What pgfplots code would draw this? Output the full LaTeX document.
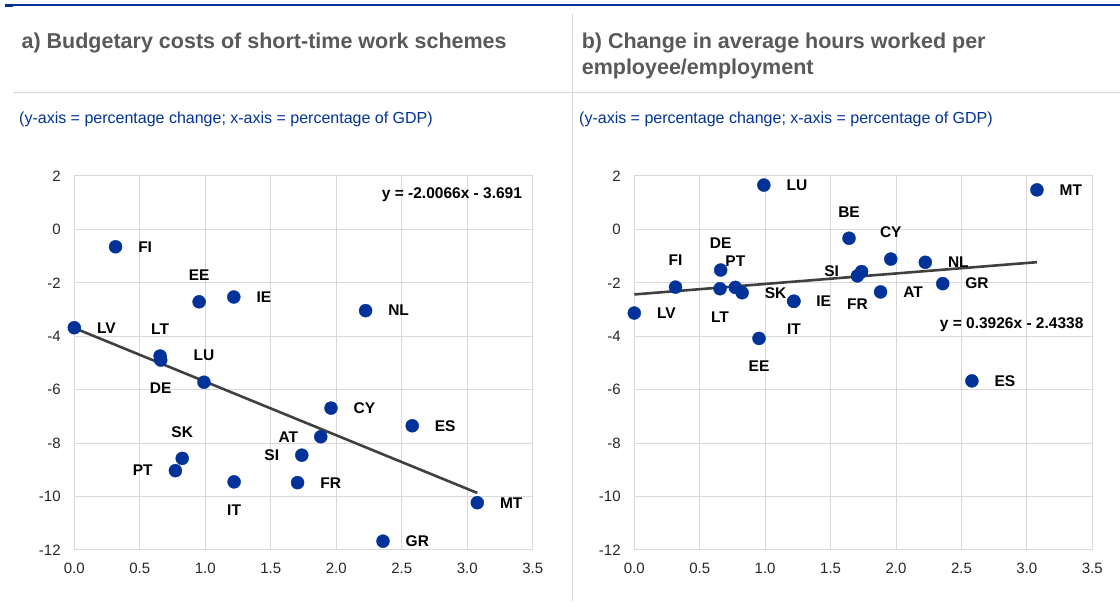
\documentclass[border=0pt]{standalone}
\usepackage{fontspec}
\setmainfont{Liberation Sans}
\usepackage{pgfplots}
\pgfplotsset{compat=1.18}
\definecolor{ecbblue}{RGB}{0,50,153}
\definecolor{titlegray}{RGB}{89,89,89}
\definecolor{gridgray}{RGB}{217,217,217}
\definecolor{sepgray}{RGB}{214,214,214}
\definecolor{trendgray}{RGB}{64,64,64}
\definecolor{ticktext}{RGB}{38,38,38}

\pgfplotsset{
  panel/.style={
    anchor=south west, scale only axis, height=374pt,
    xmin=0, xmax=3.5, ymin=-12, ymax=2,
    xtick={0,0.5,1,1.5,2,2.5,3,3.5}, ytick={-12,-10,-8,-6,-4,-2,0,2},
    xticklabels={0.0,0.5,1.0,1.5,2.0,2.5,3.0,3.5},
    yticklabels={-12,-10,-8,-6,-4,-2,0,2},
    grid=major, grid style={gridgray, line width=1pt},
    axis line style={gridgray, line width=1pt},
    major tick length=0pt,
    tick label style={font=\fontsize{15}{18}\selectfont, text=ticktext, inner sep=0pt},
    xticklabel style={anchor=base, yshift=-24pt},
    yticklabel style={anchor=east, xshift=-13.5pt},
    clip=false,
  },
  pts/.style={only marks, mark=*, mark size=6.5pt,
    mark options={draw=ecbblue, fill=ecbblue}, color=ecbblue,
    point meta=explicit symbolic, nodes near coords},
  lright/.style={pts, nodes near coords style={font=\fontsize{15.5}{18}\selectfont\bfseries, text=black, inner sep=0pt, anchor=west, xshift=22.5pt}},
  lleft/.style={pts, nodes near coords style={font=\fontsize{15.5}{18}\selectfont\bfseries, text=black, inner sep=0pt, anchor=east, xshift=-22.5pt}},
  labove/.style={pts, nodes near coords style={font=\fontsize{15.5}{18}\selectfont\bfseries, text=black, inner sep=0pt, anchor=center, yshift=26.5pt}},
  lbelow/.style={pts, nodes near coords style={font=\fontsize{15.5}{18}\selectfont\bfseries, text=black, inner sep=0pt, anchor=center, yshift=-28pt}},
  trend/.style={no marks, draw=trendgray, line width=2.6pt},
}

\pgfplotstableread{
x y lab
0.315 -0.65 FI
1.218 -2.53 IE
2.224 -3.04 NL
0.000 -3.68 LV
1.960 -6.69 CY
2.580 -7.35 ES
1.705 -9.48 FR
3.077 -10.23 MT
2.357 -11.67 GR
}\aright
\pgfplotstableread{
x y lab
0.953 -2.71 EE
0.655 -4.74 LT
0.990 -5.72 LU
0.824 -8.57 SK
}\aabove
\pgfplotstableread{
x y lab
0.660 -4.89 DE
1.220 -9.45 IT
}\abelow
\pgfplotstableread{
x y lab
0.772 -9.03 PT
1.737 -8.45 SI
1.882 -7.76 AT
}\aleft

\pgfplotstableread{
x y lab
0.990 1.66 LU
3.077 1.48 MT
2.224 -1.23 NL
2.357 -2.03 GR
1.882 -2.34 AT
0.824 -2.37 SK
1.218 -2.69 IE
0.000 -3.13 LV
2.580 -5.67 ES
}\bright
\pgfplotstableread{
x y lab
1.641 -0.33 BE
1.960 -1.11 CY
0.660 -1.52 DE
0.315 -2.16 FI
0.772 -2.17 PT
}\babove
\pgfplotstableread{
x y lab
1.705 -1.74 FR
0.655 -2.22 LT
1.220 -2.69 IT
0.953 -4.08 EE
}\bbelow
\pgfplotstableread{
x y lab
1.737 -1.58 SI
}\bleft

\begin{document}
\begin{tikzpicture}
\path[use as bounding box] (0,0) rectangle (1120pt,607pt);
% decorative frame lines
\draw[ecbblue, line width=1.2pt] (5pt,602pt) -- (1120pt,602pt);
\fill[ecbblue] (5pt,600pt) rectangle (13.3pt,602.6pt);
\draw[gridgray, line width=1.5pt] (13pt,514.7pt) -- (1120pt,514.7pt);
\draw[sepgray, line width=1.3pt] (572.5pt,593pt) -- (572.5pt,6pt);
% titles
\node[anchor=base west, inner sep=0pt, text=titlegray, font=\fontsize{21.5}{23}\selectfont\bfseries] at (21.4pt,558pt) {a) Budgetary costs of short-time work schemes};
\node[anchor=base west, inner sep=0pt, text=titlegray, font=\fontsize{21.5}{23}\selectfont\bfseries] at (581.6pt,558pt) {b) Change in average hours worked per};
\node[anchor=base west, inner sep=0pt, text=titlegray, font=\fontsize{21.5}{23}\selectfont\bfseries] at (581.6pt,532.5pt) {employee/employment};
\node[anchor=base west, inner sep=0pt, text=ecbblue, font=\fontsize{16}{19}\selectfont] at (19pt,483pt) {(y-axis = percentage change; x-axis = percentage of GDP)};
\node[anchor=base west, inner sep=0pt, text=ecbblue, font=\fontsize{16}{19}\selectfont] at (579pt,483pt) {(y-axis = percentage change; x-axis = percentage of GDP)};

\begin{axis}[panel, at={(74.3pt,57pt)}, width=458.4pt]
\addplot[lright] table[meta=lab] {\aright};
\addplot[labove] table[meta=lab] {\aabove};
\addplot[lbelow] table[meta=lab] {\abelow};
\addplot[lleft] table[meta=lab] {\aleft};
\addplot[trend] coordinates {(0,-3.691) (3.077,-9.8653)};
\node[anchor=east, inner sep=0pt, font=\fontsize{15.5}{18}\selectfont\bfseries, text=black] at (rel axis cs:0.977,0.949) {y = -2.0066x - 3.691};
\end{axis}

\begin{axis}[panel, at={(634.3pt,57pt)}, width=458pt]
\addplot[lright] table[meta=lab] {\bright};
\addplot[labove] table[meta=lab] {\babove};
\addplot[lbelow] table[meta=lab] {\bbelow};
\addplot[lleft] table[meta=lab] {\bleft};
\addplot[trend] coordinates {(0,-2.4338) (3.077,-1.2258)};
\node[anchor=east, inner sep=0pt, font=\fontsize{15.5}{18}\selectfont\bfseries, text=black] at (rel axis cs:0.981,0.6035) {y = 0.3926x - 2.4338};
\end{axis}
\end{tikzpicture}
\end{document}
